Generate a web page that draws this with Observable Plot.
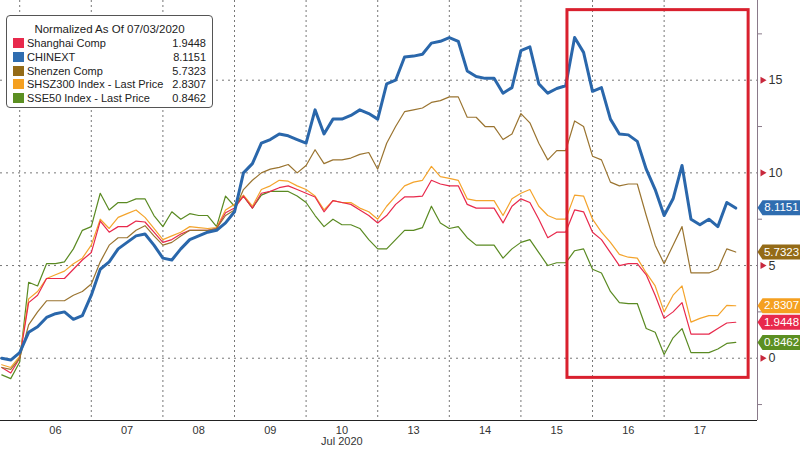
<!DOCTYPE html>
<html>
<head>
<meta charset="utf-8">
<script src="https://cdn.jsdelivr.net/npm/d3@7"></script>
<script src="https://cdn.jsdelivr.net/npm/@observablehq/plot@0.6"></script>
<style>
  body { margin: 0; background: #fff; }
  #wrap { position: relative; width: 800px; height: 450px; overflow: hidden; }
  #legend { position: absolute; left: 6px; top: 15px; width: 207px; height: 93px; background: #fff;
    border: 1px solid #555; border-radius: 4px; box-sizing: border-box;
    font-family: "Liberation Sans", Arial, sans-serif; font-size: 11px; color: #222; }
  #legend .title { position: absolute; left: 0; right: 0; top: 7px; text-align: center; font-size: 11.5px; }
  #legend .row { position: absolute; left: 0; right: 0; height: 14px; line-height: 14px; }
  #legend .sw { position: absolute; left: 6px; top: 2px; width: 11px; height: 10px; }
  #legend .nm { position: absolute; left: 20px; }
  #legend .vl { position: absolute; right: 6px; }
</style>
</head>
<body>
<div id="wrap"><div id="chart"></div><div id="legend"></div></div>
<script>
// ---- data ----
const days = ["03", "06", "07", "08", "09", "10", "13", "14", "15", "16", "17"];
const monthLabel = "Jul 2020";
const legendTitle = "Normalized As Of 07/03/2020";
const seriesNames = ["Shanghai Comp", "CHINEXT", "Shenzen Comp", "SHSZ300 Index - Last Price", "SSE50 Index - Last Price"];
const lastValues = ["1.9448", "8.1151", "5.7323", "2.8307", "0.8462"];
const seriesColors = ["#e8294c", "#2a67ab", "#9a7430", "#f4a42c", "#5a8a22"];
const tagColors = ["#e8294c", "#2f6db0", "#946b17", "#f5a020", "#5b8f22"];
// samples: first sample time (in trading days, 06 = 1) and spacing
const sampleStart = 0.25, sampleStep = 0.125;

const shanghai = [
  -0.5, -0.8, 0.0, 3.0, 3.4, 4.3, 4.3, 4.3, 4.8, 5.3, 5.7, 7.4, 6.8, 7.1, 7.1, 7.4, 7.35,
  6.8, 6.25, 6.4, 6.7, 6.9, 6.9, 6.9, 7.0, 7.85, 8.1, 8.75, 8.1, 8.9, 9.0, 9.2, 9.3,
  9.1, 8.9, 8.7, 7.9, 8.5, 8.4, 8.3, 8.0, 7.7, 7.3, 7.7, 8.3, 8.7, 8.7, 8.75, 9.6,
  9.4, 9.3, 9.3, 8.3, 8.1, 8.1, 8.1, 7.3, 8.2, 8.6, 8.4, 7.5, 6.5, 6.8, 6.8, 8.0, 7.9,
  6.8, 6.4, 5.7, 5.0, 5.1, 5.1, 4.5, 3.4, 2.15, 2.5, 3.0, 1.3, 1.3, 1.3, 1.6, 1.9, 1.94
];
const chinext = [
  0.0, -0.1, 0.3, 1.4, 1.7, 2.2, 2.4, 2.5, 2.1, 2.3, 3.4, 4.8, 5.2, 5.9, 6.25, 6.6, 6.7,
  6.1, 5.4, 5.3, 5.9, 6.4, 6.6, 6.8, 6.9, 7.3, 7.9, 10.0, 10.5, 11.6, 11.8, 12.1, 12.0,
  11.8, 11.6, 13.4, 12.1, 12.9, 12.9, 13.1, 13.4, 13.2, 12.9, 14.8, 15.0, 16.25, 16.3, 16.4, 17.0,
  17.1, 17.3, 17.1, 15.5, 15.2, 15.1, 15.1, 14.3, 14.6, 16.6, 16.8, 14.8, 14.3, 14.55, 14.7, 17.3, 16.5,
  14.4, 14.6, 12.9, 12.1, 12.05, 11.7, 10.2, 9.1, 7.7, 8.6, 10.4, 7.5, 7.2, 7.5, 7.1, 8.4, 8.1
];
const shenzen = [
  -0.5, -0.6, 0.0, 1.8, 2.5, 3.1, 3.1, 3.1, 3.4, 3.6, 4.0, 5.2, 6.1, 6.5, 6.5, 6.9, 7.15,
  6.6, 6.1, 6.25, 6.6, 6.9, 6.9, 6.9, 7.0, 7.7, 8.0, 9.1, 9.6, 10.0, 10.2, 10.3, 10.45,
  10.0, 10.4, 11.25, 10.5, 10.7, 10.7, 10.8, 11.0, 11.1, 10.2, 11.6, 12.5, 13.3, 13.4, 13.5, 13.8,
  13.9, 14.1, 14.1, 13.0, 13.0, 12.5, 12.5, 11.8, 12.1, 13.2, 12.7, 11.6, 10.7, 11.2, 11.2, 12.8, 12.5,
  10.9, 10.7, 9.5, 9.3, 9.4, 9.4, 7.7, 6.1, 5.1, 6.1, 7.1, 4.6, 4.6, 4.6, 4.8, 5.9, 5.73
];
const shsz300 = [
  -0.35, -0.5, 0.1, 3.2, 3.6, 4.3, 4.5, 4.7, 5.1, 5.4, 6.1, 7.5, 7.0, 7.6, 7.8, 8.0, 7.6,
  7.0, 6.4, 6.6, 6.8, 7.1, 7.05, 7.0, 7.05, 8.0, 8.3, 8.8, 8.2, 9.1, 9.3, 9.6, 9.55,
  9.3, 9.1, 8.75, 8.0, 8.5, 8.4, 8.4, 8.1, 7.9, 7.5, 8.2, 8.75, 9.3, 9.5, 9.6, 10.35,
  9.8, 9.7, 9.6, 8.6, 8.5, 8.5, 8.5, 7.7, 8.6, 8.9, 9.1, 8.2, 7.7, 7.5, 7.5, 8.8, 8.75,
  7.5, 6.8, 6.25, 5.6, 5.45, 5.4, 4.6, 3.9, 2.5, 3.4, 3.9, 1.95, 2.15, 2.3, 2.3, 2.85, 2.83
];
const sse50 = [
  -0.9, -1.1, -0.2, 4.1, 3.9, 5.1, 5.1, 5.2, 5.9, 6.9, 7.1, 8.9, 8.0, 8.4, 8.4, 8.6, 8.6,
  7.7, 7.1, 7.9, 7.5, 7.8, 7.7, 7.7, 7.1, 8.75, 8.2, 8.75, 8.1, 8.8, 9.0, 9.0, 9.0,
  8.75, 8.4, 7.7, 7.1, 7.5, 7.2, 7.2, 7.0, 6.4, 5.9, 5.9, 6.4, 6.9, 6.9, 7.05, 8.2,
  7.3, 7.0, 7.1, 6.5, 6.1, 6.1, 6.1, 5.4, 5.9, 6.25, 6.4, 5.7, 5.0, 5.15, 5.15, 5.8, 5.9,
  4.8, 4.6, 3.6, 3.0, 2.95, 2.95, 1.6, 1.4, 0.2, 1.1, 1.6, 0.3, 0.3, 0.3, 0.5, 0.8, 0.85
];
const seriesValues = [shanghai, chinext, shenzen, shsz300, sse50];
const majorTicks = [0, 5, 10, 15];
const minorTicks = [-2.5, 2.5, 7.5, 12.5, 17.5];
const highlight = {x1: 8.15, x2: 10.68, y1: -1.06, y2: 18.78};

// ---- build ----
const xDomain = [0.232, 10.804];
const yDomain = [-3.36, 19.3];
const rows = seriesNames.map((name, k) => seriesValues[k].map((v, i) => ({t: sampleStart + i * sampleStep, v, s: name}))).flat();
const dayTicks = days.map((d, i) => i).filter(i => i > 0);
const boundaries = days.map((d, i) => i + 0.5).slice(0, -1);
const tags = seriesNames.map((s, k) => ({s, v: +lastValues[k], label: lastValues[k]}));

const tagSymbol = {
  draw(ctx) {
    ctx.moveTo(0, 0); ctx.lineTo(5, -7.5); ctx.lineTo(46, -7.5); ctx.lineTo(46, 7.5); ctx.lineTo(5, 7.5); ctx.closePath();
  }
};
const drawOrder = [4, 3, 0, 2, 1];
const lineMarks = drawOrder.map(k => Plot.line(rows.filter(r => r.s === seriesNames[k]), {
  x: "t", y: "v", stroke: seriesColors[k], strokeWidth: k === 1 ? 3 : 1.2, strokeLinejoin: "round"
}));

const chart = Plot.plot({
  width: 800, height: 450,
  marginLeft: 0, marginRight: 43, marginTop: 0, marginBottom: 30,
  style: {fontFamily: "'Liberation Sans',Arial,sans-serif", fontSize: "11px", color: "#333", background: "#fff"},
  x: {domain: xDomain, axis: null},
  y: {domain: yDomain, axis: null},
  color: {domain: seriesNames, range: tagColors},
  marks: [
    Plot.ruleX(boundaries, {stroke: "#777", strokeDasharray: "2,3", strokeWidth: 1}),
    Plot.ruleY(majorTicks, {stroke: "#777", strokeDasharray: "2,4", strokeWidth: 1}),
    ...lineMarks,
    Plot.rect([highlight], {x1: "x1", x2: "x2", y1: "y1", y2: "y2", fill: "none", stroke: "#d9202e", strokeWidth: 3}),
    Plot.ruleX([xDomain[1]], {stroke: "#8a7a8a", strokeWidth: 1}),
    Plot.ruleY([yDomain[0]], {stroke: "#222", strokeWidth: 1.2}),
    Plot.axisX(dayTicks, {anchor: "bottom", tickSize: 0, tickPadding: 5, fontSize: 11, lineHeight: 1.05,
      tickFormat: i => days[i] + (i === 5 ? "\n" + monthLabel : "")}),
    Plot.axisY(minorTicks, {anchor: "right", tickSize: 4, tickFormat: () => "", stroke: "#8a7a8a"}),
    Plot.axisY(majorTicks, {anchor: "right", tickSize: 0, tickPadding: 11, fontSize: 12.5}),
    Plot.dot(majorTicks, {frameAnchor: "right", y: d => d, symbol: "triangle", rotate: 90, r: 2.6, fill: "#c8283c", dx: 5}),
    Plot.dot(tags, {frameAnchor: "right", y: "v", symbol: tagSymbol, r: 5, fill: "s"}),
    Plot.text(tags, {frameAnchor: "right", y: "v", text: "label", fill: "white", dx: 24, textAnchor: "middle", fontSize: 11.5})
  ]
});
document.getElementById("chart").appendChild(chart);

// legend overlay
const lg = document.getElementById("legend");
const t = document.createElement("div"); t.className = "title"; t.textContent = legendTitle; lg.appendChild(t);
seriesNames.forEach((name, k) => {
  const r = document.createElement("div"); r.className = "row"; r.style.top = (20 + k * 13.8) + "px";
  r.innerHTML = `<span class="sw" style="background:${tagColors[k]}"></span><span class="nm"></span><span class="vl"></span>`;
  r.querySelector(".nm").textContent = name;
  r.querySelector(".vl").textContent = lastValues[k];
  lg.appendChild(r);
});
</script>
</body>
</html>
